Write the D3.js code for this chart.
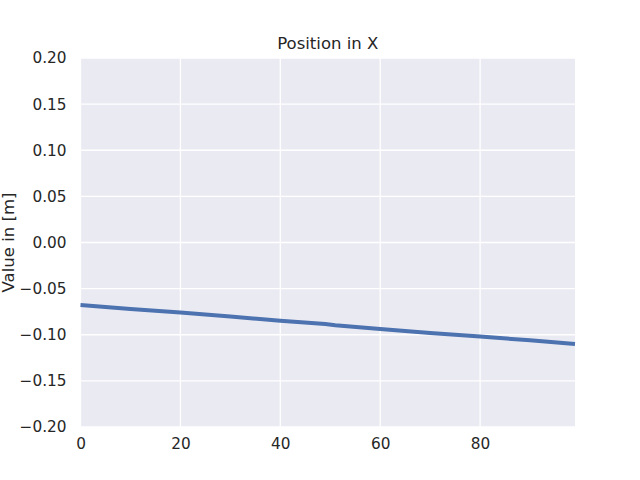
<!DOCTYPE html>
<html>
<head>
<meta charset="utf-8">
<script src="https://cdn.jsdelivr.net/npm/d3@7"></script>
<style>
body { margin: 0; background: #fff; }
svg { font-family: "DejaVu Sans", sans-serif; }
</style>
</head>
<body>
<script>
// values
var steps = [0, 10, 20, 30, 40, 49, 51, 60, 70, 80, 90, 99];
var posX = [-0.0678, -0.0720, -0.0760, -0.0803, -0.0848, -0.0884, -0.0897, -0.0938, -0.0980, -0.1020, -0.1060, -0.1100];
var xTicks = [0, 20, 40, 60, 80];
var yTicks = [-0.20, -0.15, -0.10, -0.05, 0.00, 0.05, 0.10, 0.15, 0.20];

var width = 640,
	height = 480;

var margin = {top: 58, right: 65, bottom: 53, left: 80.5};

var svg = d3.select("body").append("svg")
    .attr("width", width)
    .attr("height", height);

var x = d3.scaleLinear()
    .domain([0, 99])
    .range([margin.left, width - margin.right]);

var y = d3.scaleLinear()
    .domain([-0.2, 0.2])
    .range([height - margin.bottom, margin.top]);

svg.append("rect")
    .attr("x", x(0))
    .attr("y", y(0.2))
    .attr("width", x(99) - x(0))
    .attr("height", y(-0.2) - y(0.2))
    .attr("fill", "#eaeaf2");

// grid
svg.append("g")
    .selectAll("line")
    .data(xTicks)
    .enter().append("line")
    .attr("x1", function(d) { return x(d); })
    .attr("x2", function(d) { return x(d); })
    .attr("y1", y(-0.2))
    .attr("y2", y(0.2))
    .attr("stroke", "#fff")
    .attr("stroke-width", 1.3);

svg.append("g")
    .selectAll("line")
    .data(yTicks)
    .enter().append("line")
    .attr("x1", x(0))
    .attr("x2", x(99))
    .attr("y1", function(d) { return y(d); })
    .attr("y2", function(d) { return y(d); })
    .attr("stroke", "#fff")
    .attr("stroke-width", 1.3);

var fmt = function(d) { return d3.format(".2f")(d).replace("-", "\u2212"); };

var xAxis = svg.append("g")
    .attr("transform", "translate(0," + y(-0.2) + ")")
    .call(d3.axisBottom(x).tickValues(xTicks).tickSize(0).tickPadding(11));

var yAxis = svg.append("g")
    .attr("transform", "translate(" + x(0) + ",0)")
    .call(d3.axisLeft(y).tickValues(yTicks).tickFormat(fmt).tickSize(0).tickPadding(14));

[xAxis, yAxis].forEach(function(a) {
	a.select(".domain").remove();
	a.selectAll("text")
	    .attr("fill", "#262626")
	    .style("font-size", "15.3px")
	    .style("font-family", "DejaVu Sans");
});

var line_generator = d3.line()
    .x(function(d, i) { return x(steps[i]); })
    .y(function(d) { return y(d); });

svg.append("path")
    .attr("d", line_generator(posX))
    .attr("fill", "none")
    .attr("stroke", "#4c72b0")
    .attr("stroke-width", 4)
    .attr("stroke-linecap", "butt");

svg.append("text")
    .attr("x", (x(0) + x(99)) / 2)
    .attr("y", 49)
    .attr("text-anchor", "middle")
    .attr("fill", "#262626")
    .style("font-size", "16.5px")
    .text("Position in X");

svg.append("text")
    .attr("transform", "translate(14," + y(0) + ") rotate(-90)")
    .attr("text-anchor", "middle")
    .attr("fill", "#262626")
    .style("font-size", "16.5px")
    .text("Value in [m]");
</script>
</body>
</html>
